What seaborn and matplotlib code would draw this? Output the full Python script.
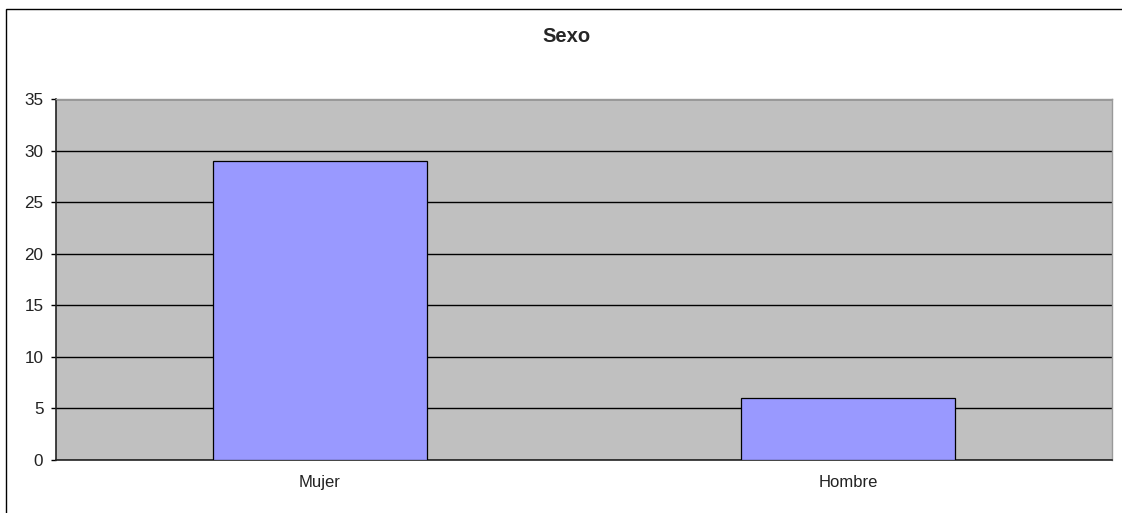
import matplotlib
matplotlib.use("Agg")
from matplotlib import pyplot as plt
from matplotlib.patches import Rectangle
import seaborn as sns
import pandas as pd

# data
categories = ["Mujer", "Hombre"]
counts = [29, 6]
y_ticks = [0, 5, 10, 15, 20, 25, 30, 35]

df = pd.DataFrame({"Sexo": categories, "Cantidad": counts})

sns.set_style("white")
plt.rcParams["font.family"] = ["Liberation Sans", "DejaVu Sans"]

fig = plt.figure(figsize=(11.22, 5.13), dpi=100)
ax = fig.add_axes([56 / 1122, 53 / 513, 1056 / 1122, 361 / 513])
ax.set_facecolor("#C0C0C0")

sns.barplot(data=df, x="Sexo", y="Cantidad", color="#9999FF", saturation=1,
            width=0.404, edgecolor="black", linewidth=0.9, ax=ax, zorder=3)

ax.set_xlim(-0.5, 1.5)
ax.set_ylim(0, 35)
ax.set_yticks(y_ticks)
ax.yaxis.grid(True, color="black", linewidth=1.0, zorder=1)
ax.set_axisbelow(True)
ax.set_xlabel("")
ax.set_ylabel("")

# x ticks at category boundaries, labels centred
ax.set_xticks([-0.5, 0.5, 1.5], minor=True)
ax.tick_params(axis="x", which="major", length=0, pad=11, labelsize=12,
               labelcolor="#222222")
ax.tick_params(axis="x", which="minor", direction="out", length=4, width=1, color="black")
ax.tick_params(axis="y", direction="out", length=3.6, width=1, color="black",
               labelsize=12.3, pad=5.5, left=True, labelcolor="#222222")

for side in ["left", "bottom"]:
    ax.spines[side].set_color("#222222")
    ax.spines[side].set_linewidth(1.2)
for side in ["top", "right"]:
    ax.spines[side].set_visible(True)
    ax.spines[side].set_color("#999999")
    ax.spines[side].set_linewidth(1.0)

fig.text(566 / 1122, 1 - 37 / 513, "Sexo", ha="center", va="center",
         fontsize=14.5, fontweight="bold")

# outer chart border
fig.patches.append(Rectangle((6 / 1122, -0.05), 1.2, 1 - 9 / 513 + 0.05,
                             transform=fig.transFigure, fill=False,
                             edgecolor="black", linewidth=1.0))

fig.savefig("out.png", dpi=100)
plt.close(fig)
